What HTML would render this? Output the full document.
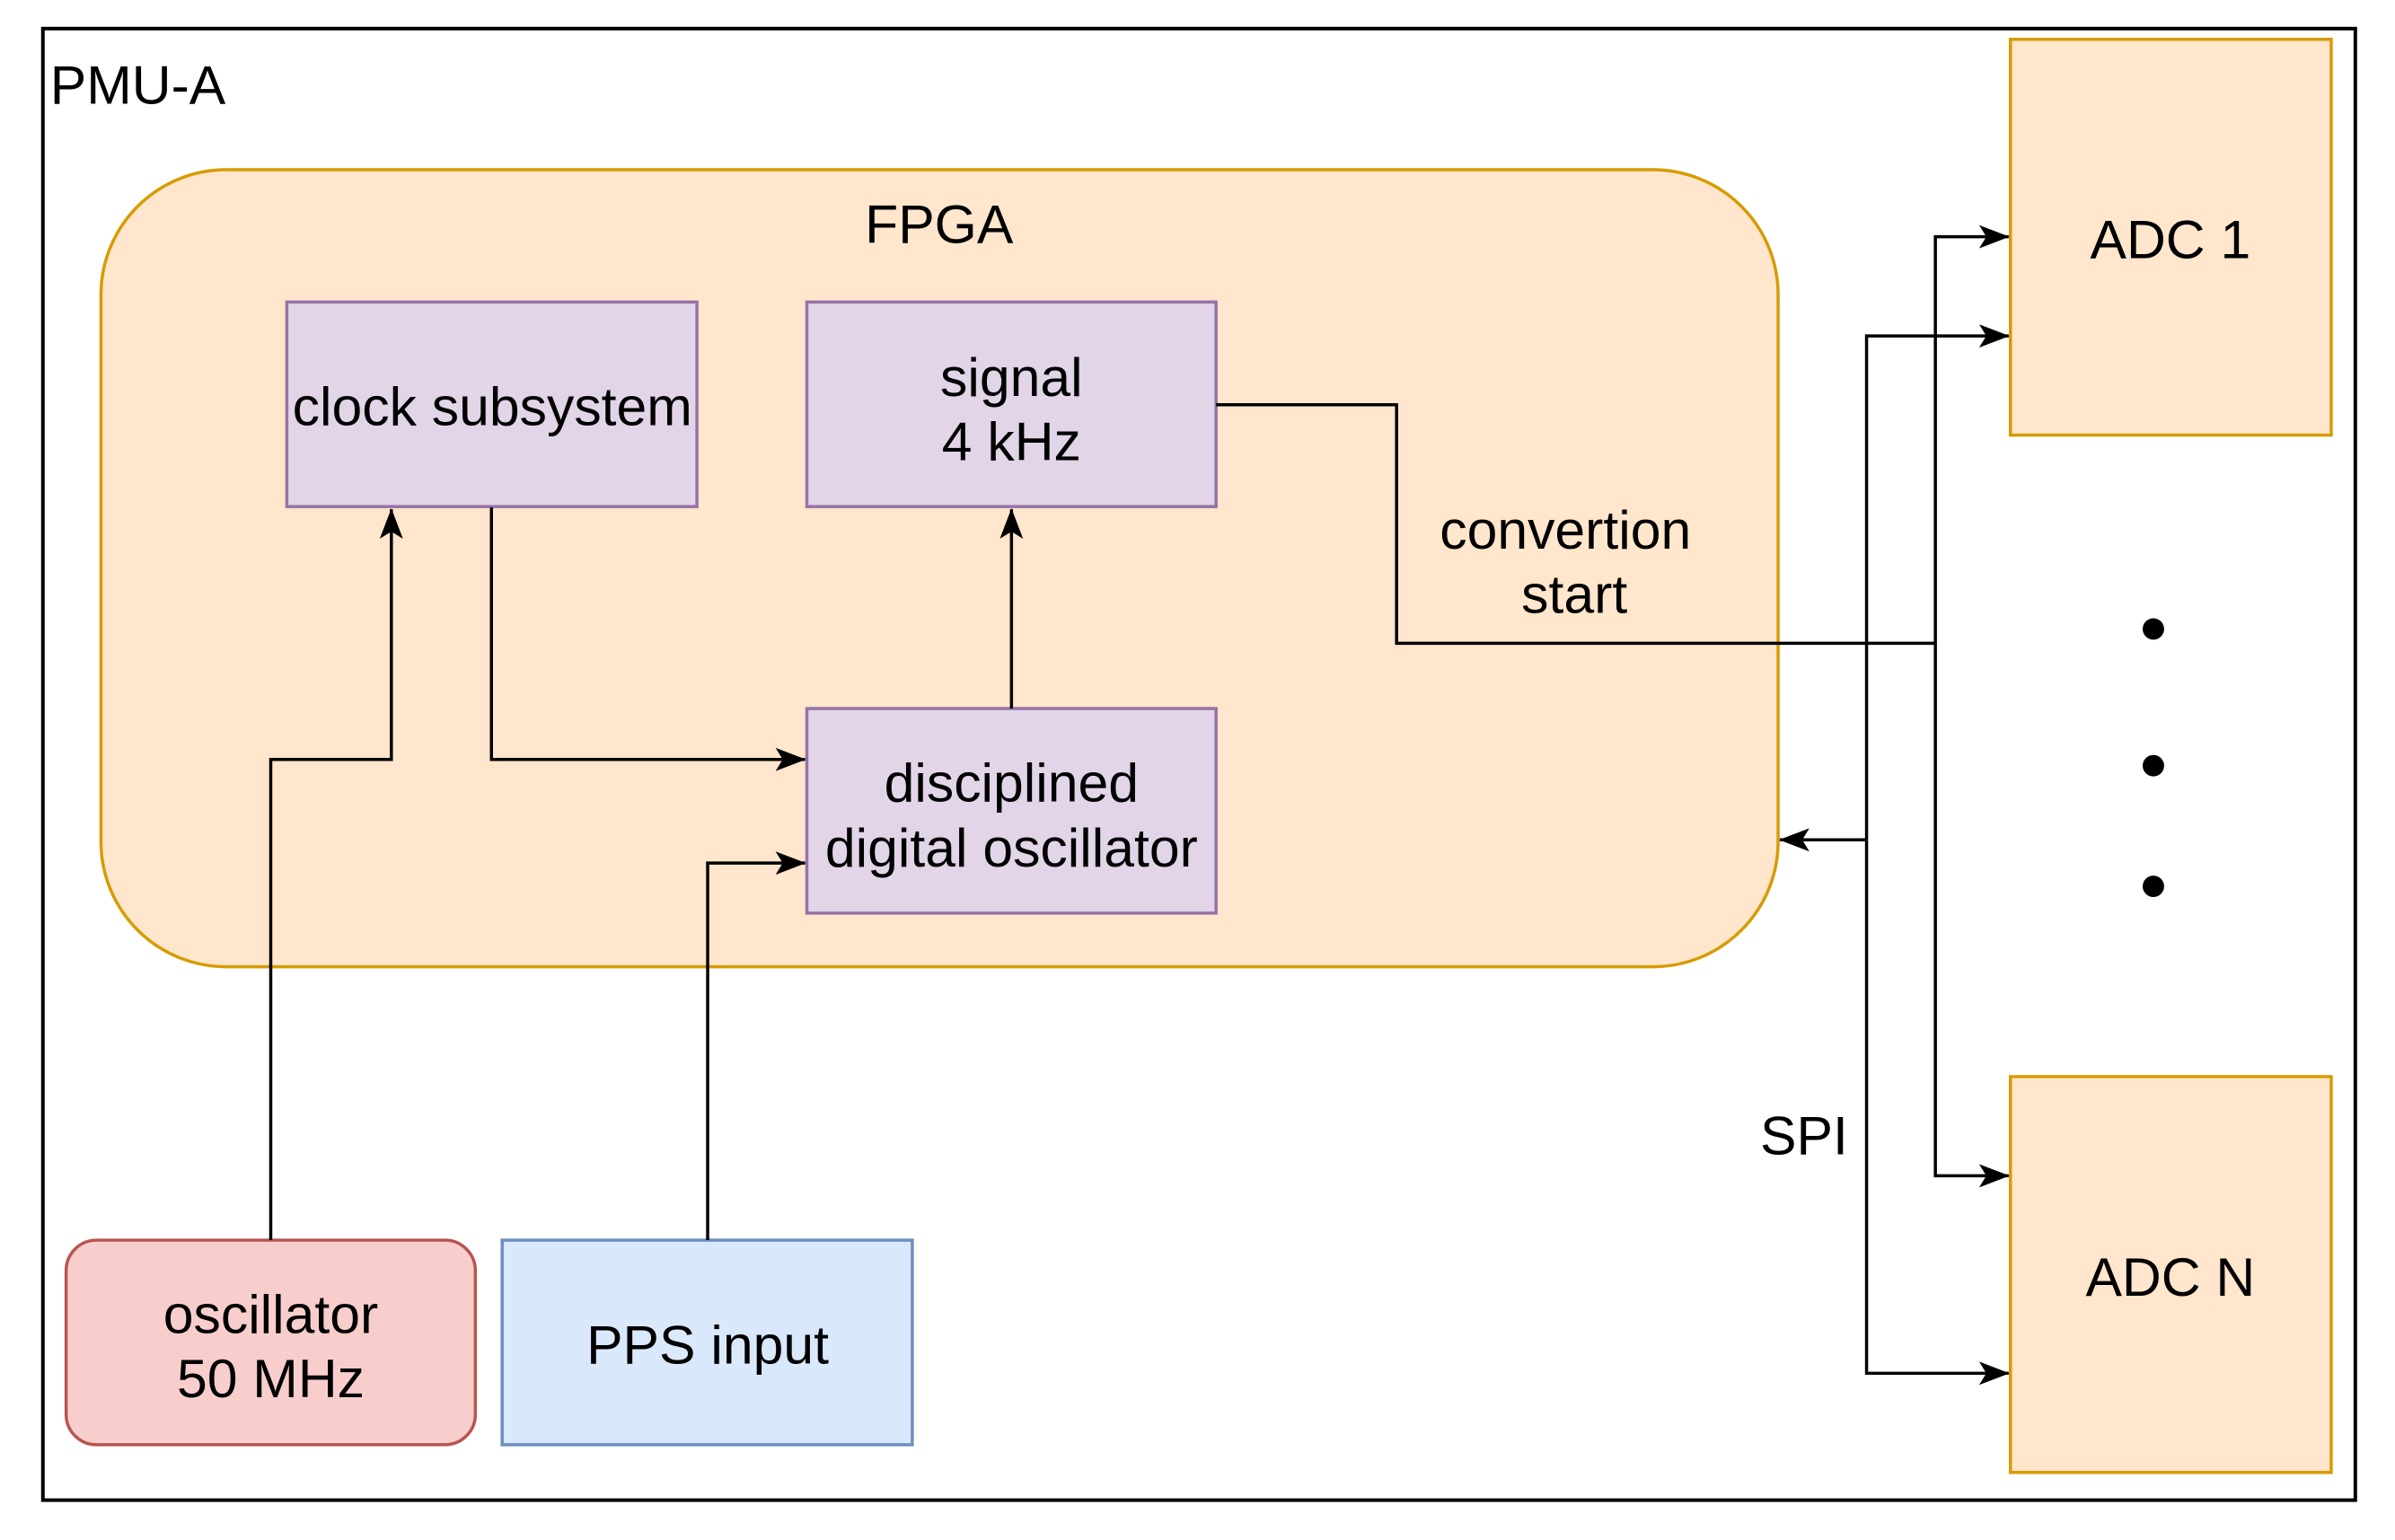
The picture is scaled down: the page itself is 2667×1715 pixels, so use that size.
<!DOCTYPE html>
<html><head><meta charset="utf-8"><style>
html,body{margin:0;padding:0;background:#fff;}
svg{display:block;}
text{font-family:"Liberation Sans",Arial,sans-serif;font-size:61px;fill:#000;text-anchor:middle;}
</style></head><body>
<svg width="2667" height="1715" viewBox="0 0 2667 1715" xmlns="http://www.w3.org/2000/svg">
<defs>
<marker id="a" viewBox="0 0 34 26" refX="33" refY="13" markerWidth="34" markerHeight="26" markerUnits="userSpaceOnUse" orient="auto">
<path d="M0,0 L34,13 L0,26 L8,13 Z" fill="#000"/>
</marker>
</defs>
<rect x="0" y="0" width="2667" height="1715" fill="#fff"/>
<g transform="scale(0.995)">
<rect x="48" y="32" width="2588" height="1647" fill="none" stroke="#000" stroke-width="4"/>
<text x="56" y="116" style="text-anchor:start">PMU-A</text>

<rect x="113" y="190" width="1877" height="892" rx="140" ry="140" fill="#ffe6cc" stroke="#d79b00" stroke-width="3.5"/>
<text x="1051" y="272">FPGA</text>

<rect x="321" y="338" width="459" height="229" fill="#e1d5e7" stroke="#9673a6" stroke-width="3.5"/>
<text x="551" y="476">clock subsystem</text>
<rect x="903" y="338" width="458" height="229" fill="#e1d5e7" stroke="#9673a6" stroke-width="3.5"/>
<text x="1132" y="443">signal</text>
<text x="1132" y="515">4 kHz</text>
<rect x="903" y="793" width="458" height="229" fill="#e1d5e7" stroke="#9673a6" stroke-width="3.5"/>
<text x="1132" y="897">disciplined</text>
<text x="1132" y="970">digital oscillator</text>

<rect x="2250" y="44" width="359" height="443" fill="#ffe6cc" stroke="#d79b00" stroke-width="3.5"/>
<text x="2429" y="289">ADC 1</text>
<rect x="2250" y="1205" width="359" height="443" fill="#ffe6cc" stroke="#d79b00" stroke-width="3.5"/>
<text x="2429" y="1450">ADC N</text>

<rect x="74" y="1388" width="458" height="229" rx="34" ry="34" fill="#f8cecc" stroke="#b85450" stroke-width="3.5"/>
<text x="303" y="1492">oscillator</text>
<text x="303" y="1564">50 MHz</text>
<rect x="562" y="1388" width="459" height="229" fill="#dae8fc" stroke="#6c8ebf" stroke-width="3.5"/>
<text x="792" y="1526">PPS input</text>

<g fill="none" stroke="#000" stroke-width="3.5">
<polyline points="303,1388 303,850 438,850 438,570" marker-end="url(#a)"/>
<polyline points="550,568 550,850 901,850" marker-end="url(#a)"/>
<polyline points="792,1388 792,966 901,966" marker-end="url(#a)"/>
<polyline points="1132,793 1132,570" marker-end="url(#a)"/>
<polyline points="1361,453 1563,453 1563,720 2166,720"/>
<polyline points="2166,720 2166,265 2248,265" marker-end="url(#a)"/>
<polyline points="2166,720 2166,1316 2248,1316" marker-end="url(#a)"/>
<polyline points="2089,940 2089,376 2248,376" marker-end="url(#a)"/>
<polyline points="2089,940 2089,1537 2248,1537" marker-end="url(#a)"/>
<polyline points="2089,940 1992,940" marker-end="url(#a)"/>
</g>

<text x="1752" y="614">convertion</text>
<text x="1762" y="686">start</text>
<text x="2019" y="1292">SPI</text>

<circle cx="2410" cy="704" r="12" fill="#000"/>
<circle cx="2410" cy="857" r="12" fill="#000"/>
<circle cx="2410" cy="992" r="12" fill="#000"/>
</g>
</svg>
</body></html>
